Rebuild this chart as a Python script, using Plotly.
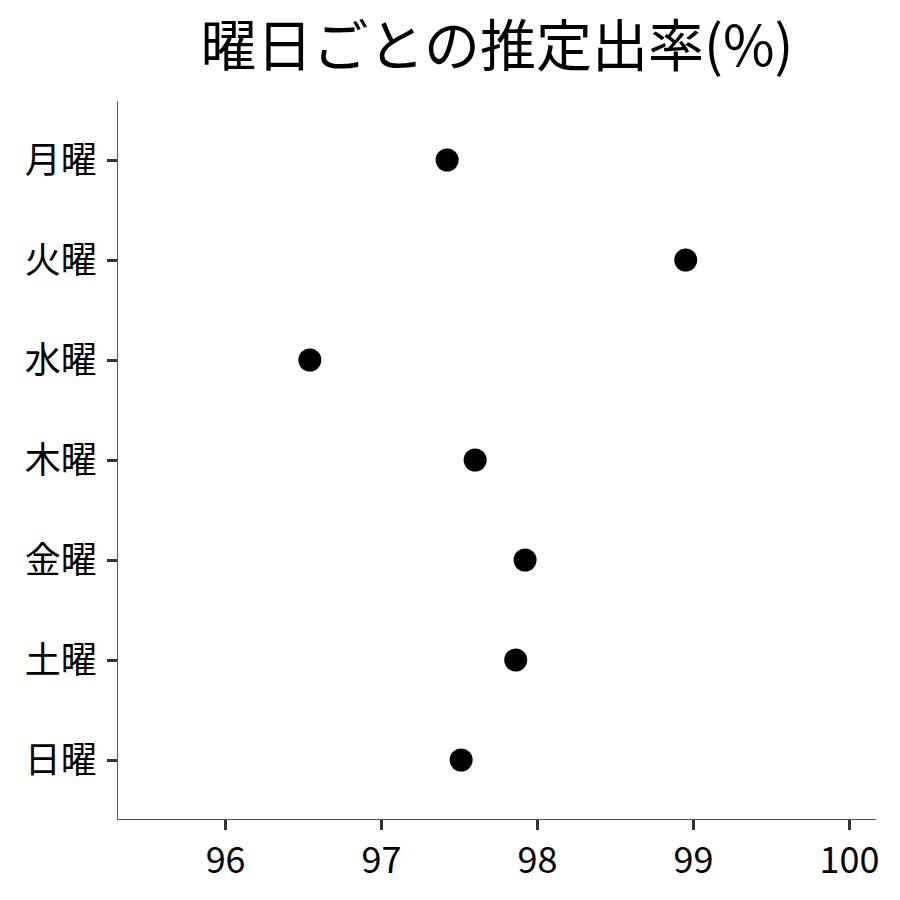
import plotly.graph_objects as go

days = ["月曜", "火曜", "水曜", "木曜", "金曜", "土曜", "日曜"]
rates = [97.42, 98.95, 96.54, 97.60, 97.92, 97.86, 97.51]
x_ticks = [96, 97, 98, 99, 100]

fig = go.Figure(go.Scatter(
    x=rates, y=days, mode="markers",
    marker=dict(color="black", size=23),
))

fig.update_layout(
    width=900, height=900,
    font=dict(family="Noto Sans CJK JP", color="black"),
    title=dict(text="曜日ごとの推定出率(%)", xref="paper", x=0.5, xanchor="center",
               y=0.957, yanchor="middle", font=dict(size=56)),
    plot_bgcolor="white", paper_bgcolor="white",
    margin=dict(l=110, r=32, t=93, b=89),
    showlegend=False,
)
fig.update_xaxes(
    range=[95.31, 100.17], tickvals=x_ticks, showgrid=False, zeroline=False,
    showline=True, linecolor="#555", linewidth=1.2,
    ticks="outside", ticklen=10, tickwidth=3, tickcolor="#333",
    tickfont=dict(size=36),
)
fig.update_yaxes(
    categoryorder="array", categoryarray=days, autorange=False,
    range=[6.59, -0.59], showgrid=False, zeroline=False,
    showline=True, linecolor="#555", linewidth=1.2,
    ticks="outside", ticklen=10, tickwidth=3, tickcolor="#333",
    tickfont=dict(size=36), ticklabelstandoff=3,
)

fig.write_html("out.html")
